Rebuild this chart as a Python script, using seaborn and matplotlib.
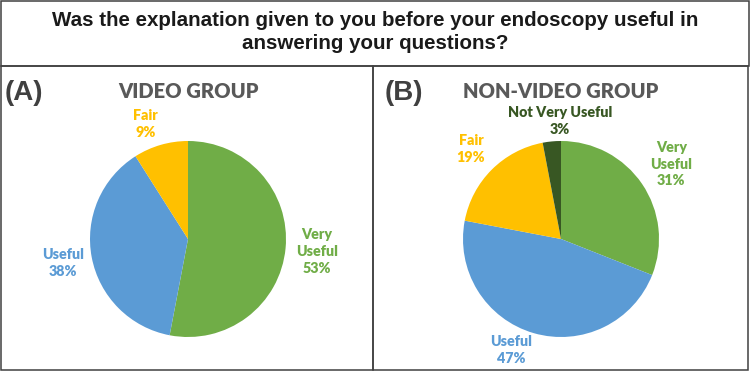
import numpy as np
import matplotlib
matplotlib.use("Agg")
import matplotlib.pyplot as plt
from matplotlib.patches import Rectangle
import seaborn as sns

title = "Was the explanation given to you before your endoscopy useful in\nanswering your questions?"

# panel A - video group
video_labels = ["Very\nUseful", "Useful", "Fair"]
video_values = [53, 38, 9]

# panel B - non-video group
nonvideo_labels = ["Very\nUseful", "Useful", "Fair", "Not Very Useful"]
nonvideo_values = [31, 47, 19, 3]

GREEN = "#70AD47"
BLUE = "#5B9BD5"
YELLOW = "#FFC000"
DKGREEN = "#385723"

sns.set_theme(style="white")
plt.rcParams['font.family'] = ['Lato', 'DejaVu Sans']

W, H = 750, 372
fig = plt.figure(figsize=(W / 100, H / 100), dpi=100)

def fx(px):
    return px / W

def fy(py):
    return 1 - py / H

# boxes round the title and the two panels
border = dict(fill=False, edgecolor="#404040", linewidth=1.1, transform=fig.transFigure)
fig.patches.append(Rectangle((fx(1), fy(66)), fx(748), 65 / H, **border))
fig.patches.append(Rectangle((fx(1), fy(370)), fx(372), 304 / H, **border))
fig.patches.append(Rectangle((fx(373), fy(370)), fx(375), 304 / H, **border))

fig.text(0.5, fy(32), title, ha="center", va="center", fontsize=14.8, fontweight="bold",
         family="Liberation Sans", color="#1a1a1a", linespacing=1.25)


def draw_pie(cx, cy, r, labels, values, colors, dists, shifts, letter, name, letter_x):
    ax = fig.add_axes([fx(cx - r), fy(cy + r), 2 * r / W, 2 * r / H])
    wedges, _ = ax.pie(values, colors=colors, startangle=90, counterclock=False,
                       radius=1, wedgeprops=dict(linewidth=0))
    ax.set_xlim(-1, 1)
    ax.set_ylim(-1, 1)
    ax.set_aspect("equal")
    ax.axis("off")
    for w, lab, v, c, d, s in zip(wedges, labels, values, colors, dists, shifts):
        ang = np.deg2rad((w.theta1 + w.theta2) / 2 + s)
        ax.text(d * np.cos(ang), d * np.sin(ang), f"{lab}\n{v}%", ha="center", va="center",
                color=c, fontsize=10.3, fontweight="heavy", linespacing=1.35, clip_on=False)
    fig.text(fx(cx), fy(92), name, ha="center", va="center", fontsize=14.5,
             fontweight="heavy", color="#595959")
    fig.text(fx(letter_x), fy(93), letter, ha="left", va="center", fontsize=20,
             fontweight="bold", family="Liberation Sans", color="#404040")


draw_pie(188, 239, 98, video_labels, video_values, [GREEN, BLUE, YELLOW],
         [1.32, 1.3, 1.25], [0, 0, 4], "(A)", "VIDEO GROUP", 5)
draw_pie(561, 239, 98, nonvideo_labels, nonvideo_values, [GREEN, BLUE, YELLOW, DKGREEN],
         [1.36, 1.24, 1.3, 1.2], [0, -8, 0, -5], "(B)", "NON-VIDEO GROUP", 385)

fig.savefig("out.png", dpi=100)
